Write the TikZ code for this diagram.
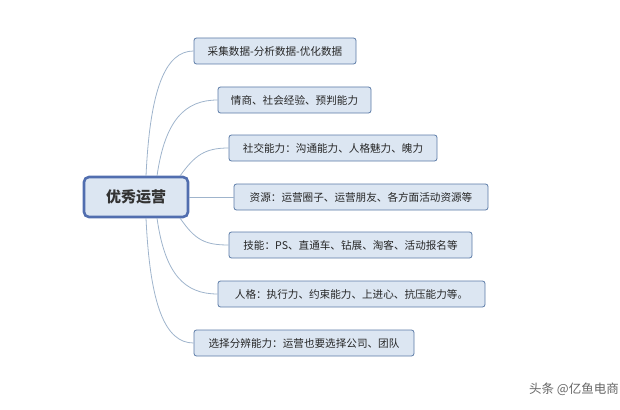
\documentclass[tikz,border=0pt]{standalone}
\usepackage{fontspec}
\newfontfamily\cjk{Noto Sans CJK SC}
\definecolor{boxfill}{HTML}{DCE6F2}
\definecolor{boxline}{HTML}{5A7AA6}
\definecolor{linkc}{HTML}{9FB4CC}
\begin{document}
\begin{tikzpicture}[x=1pt,y=-1pt,
  leaf/.style={draw=boxline,fill=boxfill,rounded corners=2.5pt,line width=0.8pt,minimum height=26pt,inner xsep=6pt,font=\cjk\fontsize{10.6}{12}\selectfont,text=black!85},
  rootbox/.style={draw=boxline!90!blue,fill=boxfill,rounded corners=5pt,line width=2.6pt,minimum width=104pt,minimum height=40pt,font=\cjk\bfseries\fontsize{15}{17}\selectfont,text=black!80},
  link/.style={draw=linkc,line width=0.8pt}]
\useasboundingbox (0,0) rectangle (620,409);
\node[rootbox] (r) at (136,197) {优秀运营};
\node[leaf,minimum width=162pt] (a) at (275,51) {采集数据-分析数据-优化数据};
\node[leaf,minimum width=153pt] (b) at (294.5,100) {情商、社会经验、预判能力};
\node[leaf,minimum width=208pt] (c) at (333,148) {社交能力：沟通能力、人格魅力、魄力};
\node[leaf,minimum width=254pt] (d) at (361,197) {资源：运营圈子、运营朋友、各方面活动资源等};
\node[leaf,minimum width=243pt] (e) at (350.5,245) {技能：PS、直通车、钻展、淘客、活动报名等};
\node[leaf,minimum width=267pt] (f) at (351.5,294) {人格：执行力、约束能力、上进心、抗压能力等。};
\node[leaf,minimum width=220pt] (g) at (304,343) {选择分辨能力：运营也要选择公司、团队};
\coordinate (r1) at (146,176);
\coordinate (r2) at (157,176);
\coordinate (r3) at (180,176);
\coordinate (r5) at (180,218);
\coordinate (r6) at (157,218);
\coordinate (r7) at (146,218);
\draw[link] (r1) .. controls (150,90) and (165,51) .. (a.west);
\draw[link] (r2) .. controls (165,120) and (185,100) .. (b.west);
\draw[link] (r3) .. controls (195,155) and (205,148) .. (c.west);
\draw[link] (r.east) -- (d.west);
\draw[link] (r5) .. controls (195,240) and (205,245) .. (e.west);
\draw[link] (r6) .. controls (165,275) and (185,294) .. (f.west);
\draw[link] (r7) .. controls (150,305) and (165,343) .. (g.west);
\node[font=\cjk\fontsize{12.5}{14}\selectfont,text=black!60] (w) at (574,389) {头条 @亿鱼电商};
\end{tikzpicture}
\end{document}
